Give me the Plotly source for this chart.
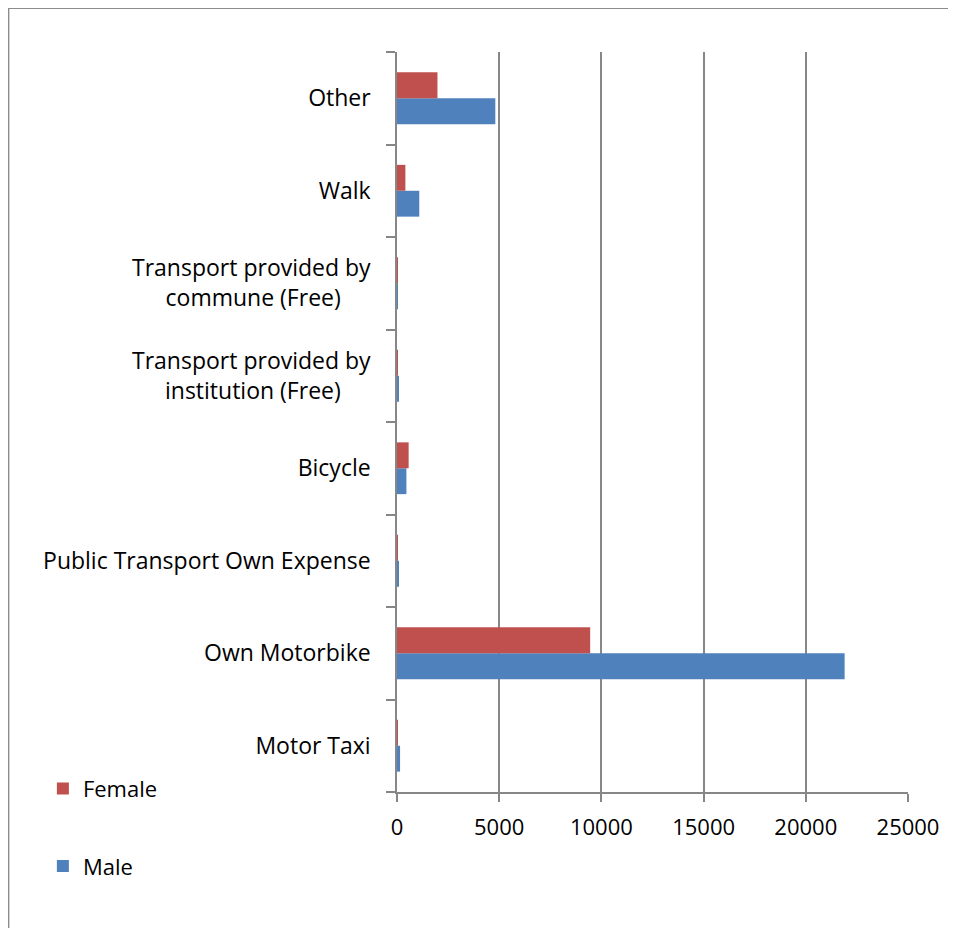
import plotly.graph_objects as go

NB = "\u00a0"
categories = [
    "Motor Taxi",
    "Own Motorbike",
    "Public Transport Own Expense",
    "Bicycle",
    "Transport provided by<br>institution (Free)" + NB * 5,
    "Transport provided by<br>commune (Free)" + NB * 5,
    "Walk",
    "Other",
]
male = [150, 21900, 90, 460, 80, 10, 1090, 4810]
female = [40, 9450, 20, 570, 5, 5, 410, 1980]
x_ticks = [0, 5000, 10000, 15000, 20000, 25000]
x_tick_text = ["0", "5000", "10000", "15000", "20000", "25000"]

FONT = "Open Sans"
grid = "#878787"

fig = go.Figure()
fig.add_trace(go.Bar(y=categories, x=male, orientation="h", name="Male", legendrank=2,
                     marker=dict(color="#4f81bd", line=dict(width=0)), legendgroup="m"))
fig.add_trace(go.Bar(y=categories, x=female, orientation="h", name="Female", legendrank=1,
                     marker=dict(color="#c0504d", line=dict(width=0)), legendgroup="f"))

fig.update_layout(
    width=956, height=928, autosize=False,
    margin=dict(l=389, r=56, t=44, b=144, autoexpand=False),
    paper_bgcolor="white", plot_bgcolor="white",
    barmode="group", bargap=0.44, bargroupgap=0,
    font=dict(family=FONT, size=22, color="#000000"),
    showlegend=True,
    legend=dict(x=-0.693, y=0.033, xanchor="left", yanchor="top",
                traceorder="grouped", tracegroupgap=46,
                font=dict(size=22, family=FONT), bgcolor="rgba(0,0,0,0)"),
    xaxis=dict(range=[0, 25000], tickvals=x_ticks, ticktext=x_tick_text,
               showgrid=True, gridcolor=grid, gridwidth=1.5,
               showline=True, linecolor=grid, linewidth=1.5, ticks="outside", ticklen=8,
               tickcolor=grid, tickwidth=1.5, zeroline=False, tickfont=dict(size=22),
               ticklabelstandoff=7),
    yaxis=dict(type="category", showgrid=False, showline=True, linecolor=grid, linewidth=1.5,
               ticks="outside", ticklen=9, tickcolor=grid, tickwidth=1.5, tickson="boundaries",
               ticklabelstandoff=20, tickfont=dict(size=23)),
    shapes=[dict(type="rect", xref="paper", yref="paper", x0=-0.760, x1=1.3, y0=-0.4, y1=1.059,
                 line=dict(color="#8c8c8c", width=1.5), layer="below")],
)

fig.write_html("out.html")
